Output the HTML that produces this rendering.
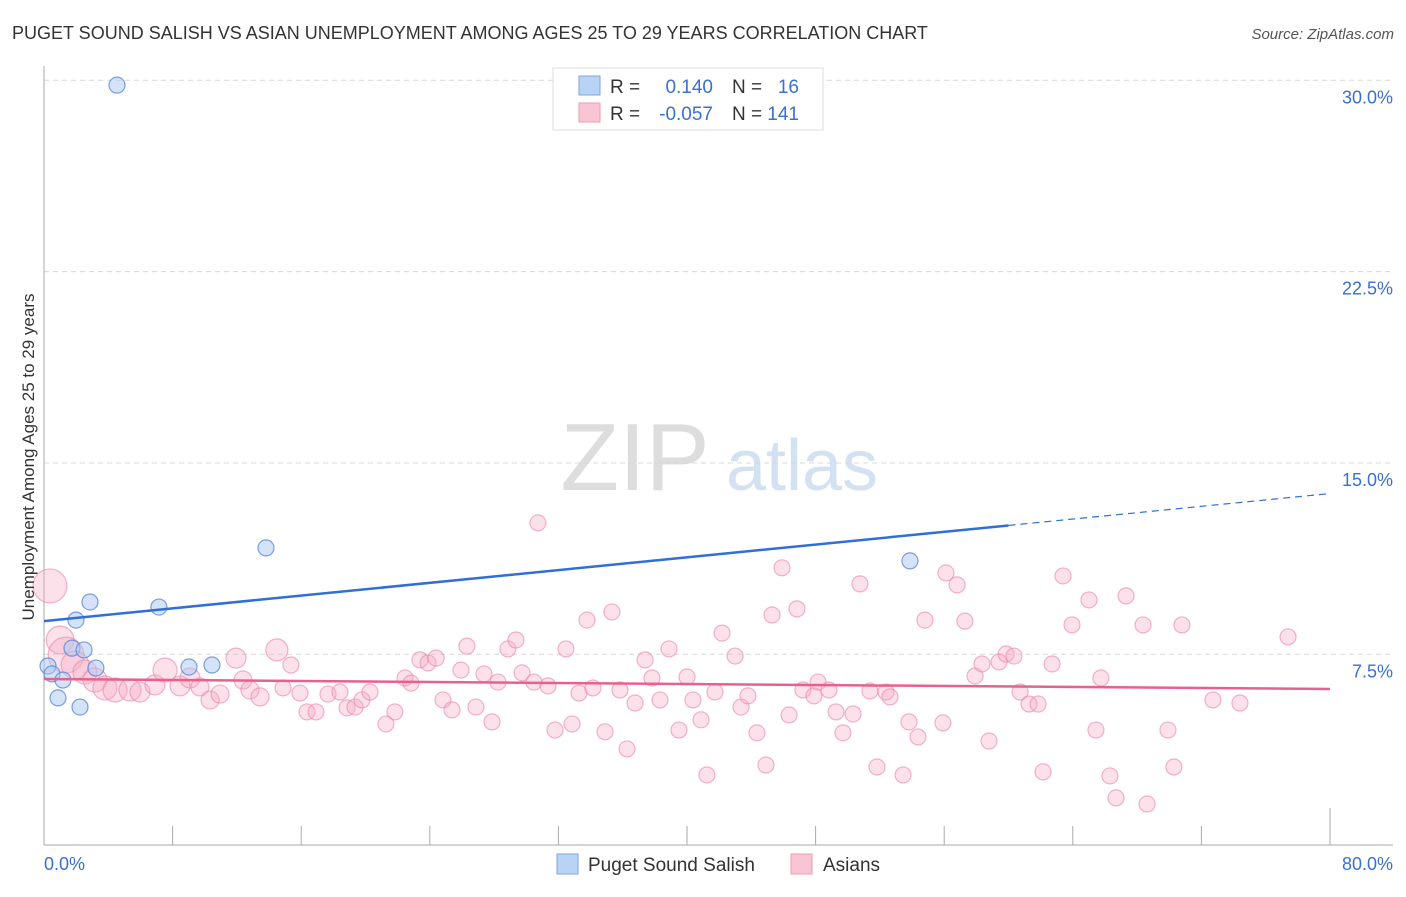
<!DOCTYPE html>
<html><head><meta charset="utf-8"><style>
body{margin:0;background:#fff;font-family:"Liberation Sans",sans-serif;}
svg text{font-family:"Liberation Sans",sans-serif;}
</style></head><body>
<svg id="chart" width="1406" height="892" xmlns="http://www.w3.org/2000/svg">
<text x="12" y="39" font-size="18" fill="#333">PUGET SOUND SALISH VS ASIAN UNEMPLOYMENT AMONG AGES 25 TO 29 YEARS CORRELATION CHART</text>
<text x="1394" y="39" font-size="15" fill="#555" text-anchor="end" font-style="italic">Source: ZipAtlas.com</text>
<g>
<text x="635" y="490" font-size="96" fill="#ddd" text-anchor="middle" font-family="Liberation Serif">ZIP</text>
<text x="802" y="490" font-size="72" fill="#d3e1f3" text-anchor="middle">atlas</text>
</g>
<g id="grid"></g>
<g id="axes"></g>
<g id="pink"></g>
<g id="blue"></g>
<g id="trends"></g>
<text transform="translate(34,457) rotate(-90)" font-size="17" fill="#333" text-anchor="middle">Unemployment Among Ages 25 to 29 years</text>
<g>
<rect x="553" y="68" width="270" height="62" fill="#fff" stroke="#ddd"/>
<rect x="579" y="76" width="21" height="19" fill="#b9d3f5" stroke="#7ea6e0"/>
<rect x="579" y="103" width="21" height="19" fill="#f9c5d4" stroke="#ee9ab3"/>
<text x="610" y="93" font-size="19" fill="#333">R =</text>
<text x="713" y="93" font-size="19" fill="#3a70cf" text-anchor="end">0.140</text>
<text x="732" y="93" font-size="19" fill="#333">N =</text>
<text x="799" y="93" font-size="19" fill="#3a70cf" text-anchor="end">16</text>
<text x="610" y="120" font-size="19" fill="#333">R =</text>
<text x="713" y="120" font-size="19" fill="#3a70cf" text-anchor="end">-0.057</text>
<text x="732" y="120" font-size="19" fill="#333">N =</text>
<text x="799" y="120" font-size="19" fill="#3a70cf" text-anchor="end">141</text>
</g>
<g>
<rect x="557" y="854" width="21" height="20" fill="#b9d3f5" stroke="#7ea6e0"/>
<text x="588" y="871" font-size="19" fill="#333">Puget Sound Salish</text>
<rect x="791" y="854" width="21" height="20" fill="#f9c5d4" stroke="#ee9ab3"/>
<text x="823" y="871" font-size="19" fill="#333">Asians</text>
</g>
</svg>
<script>
const yTicks=[7.5,15,22.5,30];
const yTickLabels=["7.5%","15.0%","22.5%","30.0%"];
const xTickVals=[0,8,16,24,32,40,48,56,64,72,80];
const blueX=[4.54,0.25,0.5,0.87,1.99,2.86,2.24,1.74,2.49,3.23,1.18,7.15,9.02,10.45,13.81,53.87];
const blueY=[29.81,7.04,6.73,5.79,8.84,9.55,5.43,7.74,7.67,6.96,6.49,9.35,7.0,7.08,11.67,11.16];
const pinkX=[0.37,1.0,1.37,1.93,2.55,3.17,3.79,4.42,5.35,5.97,6.9,7.53,8.46,9.08,9.7,10.33,10.95,11.94,12.38,12.81,13.44,14.49,14.87,15.36,15.92,16.36,16.92,17.67,18.41,18.85,19.35,19.78,20.28,21.27,21.83,22.46,22.83,23.39,23.89,24.39,24.82,25.38,25.94,26.31,26.87,27.37,27.87,28.24,28.86,29.36,29.74,30.48,30.73,31.35,31.79,32.47,32.85,33.28,33.78,34.15,34.9,35.33,35.83,36.27,36.77,37.39,37.82,38.32,38.88,39.5,40.0,40.37,40.87,41.24,41.74,42.18,42.99,43.36,43.79,44.35,44.91,45.29,45.91,46.35,46.84,47.21,47.9,48.15,48.83,49.27,49.7,50.33,50.76,51.38,51.82,52.38,52.63,53.44,53.81,54.37,54.8,55.92,56.11,56.8,57.29,57.92,58.35,58.79,59.41,59.85,60.34,60.72,61.28,61.84,62.15,62.71,63.39,63.95,65.01,65.44,65.75,66.31,66.69,67.31,68.37,68.62,69.92,70.29,70.79,72.72,74.4,77.39];
const pinkY=[10.18,8.06,7.47,7.08,6.8,6.49,6.18,6.1,6.1,6.02,6.3,6.88,6.26,6.57,6.22,5.71,5.94,7.35,6.49,6.1,5.83,7.67,6.18,7.08,5.98,5.24,5.24,5.94,6.02,5.4,5.43,5.71,6.02,4.77,5.24,6.57,6.37,7.28,7.16,7.35,5.71,5.32,6.88,7.82,5.43,6.73,4.85,6.41,7.71,8.06,6.77,6.41,12.65,6.26,4.53,7.71,4.77,5.98,8.84,6.18,4.46,9.16,6.1,3.79,5.59,7.28,6.57,5.71,7.71,4.53,6.61,5.71,4.93,2.77,6.02,8.33,7.43,5.43,5.87,4.42,3.16,9.04,10.89,5.12,9.28,6.1,5.87,6.41,6.1,5.24,4.42,5.16,10.26,6.06,3.08,6.02,5.83,2.77,4.85,4.26,8.84,4.81,10.69,10.22,8.8,6.65,7.12,4.1,7.2,7.51,7.43,6.02,5.55,5.55,2.89,7.12,10.57,8.65,9.63,4.53,6.57,2.73,1.87,9.79,8.65,1.63,4.53,3.08,8.65,5.71,5.59,8.18];
const pinkWeights=[4.5,3,5,3,2.25,2.25,2.25,2.25,1.9,1.56,1.56,2.25,1.56,1.56,1.27,1.27,1.27,1.56,1.27,1.27,1.27,1.9];
const blueTrend=[8.8,13.8];
const pinkTrend=[6.53,6.14];
const ns="http://www.w3.org/2000/svg";
const X0=44,X1=1330,Y0=845.6,PY=25.51;
const sx=v=>X0+(X1-X0)*v/80;
const sy=v=>Y0-v*PY;
function mk(tag,attrs,parent){const e=document.createElementNS(ns,tag);for(const k in attrs)e.setAttribute(k,attrs[k]);parent.appendChild(e);return e;}
const grid=document.getElementById('grid'),axes=document.getElementById('axes');
yTicks.forEach((t,i)=>{
 const l=mk('line',{x1:X0,x2:1393,y1:sy(t),y2:sy(t),stroke:'#d8d8d8','stroke-dasharray':'5,4'},grid);
 
 
 const tx=mk('text',{x:1393,y:sy(t)+23,'font-size':18,fill:'#3a70cf','text-anchor':'end'},grid);
 tx.textContent=yTickLabels[i];
 
 
});
const ax=mk('line',{x1:X0,x2:1393,y1:845,y2:845,stroke:'#aaa'},axes);


const ay=mk('line',{x1:X0,x2:X0,y1:66,y2:845,stroke:'#aaa'},axes);


xTickVals.forEach((t,i)=>{
 if(i===0)return;
 const l=mk('line',{x1:sx(t),x2:sx(t),y1:(i===xTickVals.length-1?808:826),y2:845,stroke:'#aaa'},axes);
 
 
});
const xl0=mk('text',{x:44,y:870,'font-size':18,fill:'#3a70cf'},axes);xl0.textContent='0.0%';


const xl1=mk('text',{x:1393,y:870,'font-size':18,fill:'#3a70cf','text-anchor':'end'},axes);xl1.textContent='80.0%';


const pg=document.getElementById('pink');
pinkX.forEach((v,i)=>{
 const w=pinkWeights[i]||1;
 const c=mk('circle',{cx:sx(v),cy:sy(pinkY[i]),r:8*Math.sqrt(w),fill:'rgba(246,170,195,0.35)',stroke:'rgba(234,130,165,0.6)','stroke-width':1.2},pg);
 
 
});
const bg=document.getElementById('blue');
blueX.forEach((v,i)=>{
 const c=mk('circle',{cx:sx(v),cy:sy(blueY[i]),r:8,fill:'rgba(170,200,242,0.5)',stroke:'rgba(80,130,215,0.75)','stroke-width':1.2},bg);
 
 
});
const tg=document.getElementById('trends');
const bAt=x=>blueTrend[0]+(blueTrend[1]-blueTrend[0])*x/80;
const b1=mk('line',{x1:sx(0),y1:sy(bAt(0)),x2:sx(60),y2:sy(bAt(60)),stroke:'#2f6fd6','stroke-width':2.5},tg);


const b2=mk('line',{x1:sx(60),y1:sy(bAt(60)),x2:sx(80),y2:sy(bAt(80)),stroke:'#2f6fd6','stroke-width':1.2,'stroke-dasharray':'7,5'},tg);


const p1=mk('line',{x1:sx(0),y1:sy(pinkTrend[0]),x2:sx(80),y2:sy(pinkTrend[1]),stroke:'#e8608c','stroke-width':2.5},tg);


</script>
</body></html>
